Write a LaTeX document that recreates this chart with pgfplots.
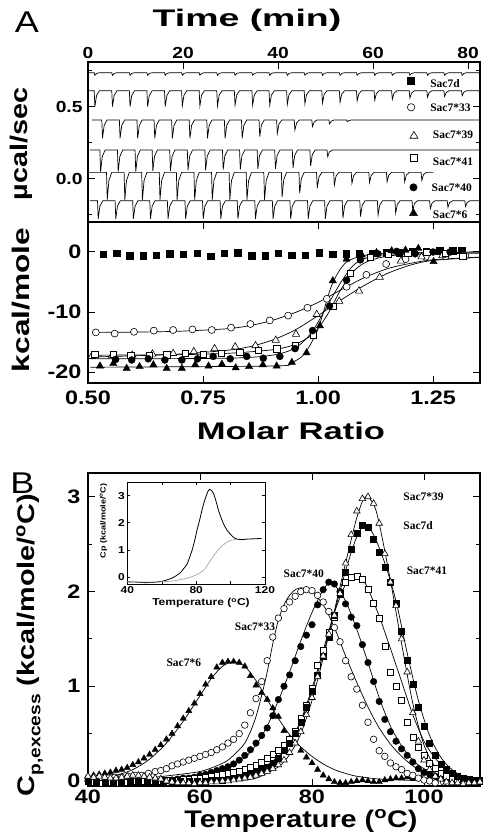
\documentclass[border=0pt]{standalone}
\usepackage{fontspec}
\setmainfont{Liberation Sans}[FakeStretch=1.2]
\newfontfamily\tnr{Liberation Serif}
\usepackage{pgfplots}
\pgfplotsset{compat=1.18}

\newcommand\lab{\fontsize{24}{24}\selectfont\bfseries}
\newcommand\ann{\tnr\fontsize{11.5}{11.5}\selectfont\bfseries}

\pgfplotsset{
  base/.style={
    scale only axis, anchor=south west, width=392pt,
    axis line style={line width=1.2pt},
    every tick/.style={line width=1pt, black},
    major tick length=7pt, minor tick length=4pt,
    /pgf/number format/assume math mode=true,
    tick label style={font=\fontsize{19.5}{19.5}\selectfont\bfseries},
  },
  trace/.style={black, line width=0.7pt, no marks},
  fit/.style={black, line width=0.7pt, no marks, smooth},
  s7d/.style={only marks, mark=square*, mark size=3.2pt, black},
  s33/.style={only marks, mark=*, mark size=3.5pt, black, mark options={fill=white, line width=0.6pt}},
  s39/.style={only marks, mark=triangle*, mark size=4.2pt, black, mark options={fill=white, line width=0.6pt}},
  s41/.style={only marks, mark=square*, mark size=3.2pt, black, mark options={fill=white, line width=0.6pt}},
  s40/.style={only marks, mark=*, mark size=3.5pt, black},
  s6/.style={only marks, mark=triangle*, mark size=4.2pt, black},
}

\begin{document}
\begin{tikzpicture}[x=1pt,y=1pt]
\path[use as bounding box] (0,0) rectangle (482,838);

% ---------- A, top: raw ITC traces
\begin{axis}[base, at={(88pt,616pt)}, height=160pt,
  xmin=0, xmax=82.5, ymin=-0.2986, ymax=0.8125,
  xtick={0,20,40,60,80}, xtick pos=right, xticklabel pos=right,
  ytick={0,0.5}, yticklabels={0.0,0.5}, minor ytick={-0.25,0.25,0.75},
  yticklabel style={xshift=-2pt},
  tick label style={font=\fontsize{16}{16}\selectfont\bfseries}]

% Sac7d
\addplot[trace] coordinates {
(0,0.738)
(1.3,0.738)(1.45,0.720)(1.8,0.733)(2.4,0.738)
(5.0,0.738)(5.15,0.720)(5.5,0.733)(6.1,0.738)
(8.7,0.738)(8.85,0.720)(9.2,0.733)(9.8,0.738)
(12.4,0.738)(12.55,0.720)(12.9,0.733)(13.5,0.738)
(16.1,0.738)(16.25,0.720)(16.6,0.733)(17.2,0.738)
(19.7,0.738)(19.85,0.720)(20.2,0.733)(20.8,0.738)
(23.4,0.738)(23.55,0.720)(23.9,0.733)(24.5,0.738)
(27.1,0.738)(27.25,0.720)(27.6,0.733)(28.2,0.738)
(30.8,0.738)(30.95,0.720)(31.3,0.733)(31.9,0.738)
(34.5,0.738)(34.65,0.720)(35.0,0.733)(35.6,0.738)
(38.1,0.738)(38.25,0.720)(38.6,0.733)(39.2,0.738)
(41.8,0.738)(41.95,0.720)(42.3,0.733)(42.9,0.738)
(45.5,0.738)(45.65,0.720)(46.0,0.733)(46.6,0.738)
(49.2,0.738)(49.35,0.720)(49.7,0.733)(50.3,0.738)
(52.9,0.738)(53.05,0.720)(53.4,0.733)(54.0,0.738)
(56.5,0.738)(56.65,0.720)(57.0,0.733)(57.6,0.738)
(60.2,0.738)(60.35,0.720)(60.7,0.733)(61.3,0.738)
(63.9,0.738)(64.05,0.720)(64.4,0.733)(65.0,0.738)
(67.6,0.738)(67.75,0.720)(68.1,0.733)(68.7,0.738)
(71.3,0.738)(71.45,0.720)(71.8,0.733)(72.4,0.738)
(74.9,0.738)(75.05,0.720)(75.4,0.733)(76.0,0.738)
(78.6,0.738)(78.75,0.720)(79.1,0.733)(79.7,0.738)
(82.3,0.738)(82.45,0.720)(82.8,0.733)(83.4,0.738)
};

% Sac7*33
\addplot[trace] coordinates {
(0,0.613)
(1.3,0.613)(1.45,0.503)(1.8,0.580)(2.4,0.613)
(5.0,0.613)(5.15,0.503)(5.5,0.580)(6.1,0.613)
(8.7,0.613)(8.85,0.503)(9.2,0.580)(9.8,0.613)
(12.4,0.613)(12.55,0.503)(12.9,0.580)(13.5,0.613)
(16.1,0.613)(16.25,0.503)(16.6,0.580)(17.2,0.613)
(19.7,0.613)(19.85,0.508)(20.2,0.582)(20.8,0.613)
(23.4,0.613)(23.55,0.508)(23.9,0.582)(24.5,0.613)
(27.1,0.613)(27.25,0.508)(27.6,0.582)(28.2,0.613)
(30.8,0.613)(30.95,0.513)(31.3,0.583)(31.9,0.613)
(34.5,0.613)(34.65,0.513)(35.0,0.583)(35.6,0.613)
(38.1,0.613)(38.25,0.513)(38.6,0.583)(39.2,0.613)
(41.8,0.613)(41.95,0.518)(42.3,0.585)(42.9,0.613)
(45.5,0.613)(45.65,0.523)(46.0,0.586)(46.6,0.613)
(49.2,0.613)(49.35,0.528)(49.7,0.588)(50.3,0.613)
(52.9,0.613)(53.05,0.533)(53.4,0.589)(54.0,0.613)
(56.5,0.613)(56.65,0.543)(57.0,0.592)(57.6,0.613)
(60.2,0.613)(60.35,0.548)(60.7,0.594)(61.3,0.613)
(63.9,0.613)(64.05,0.553)(64.4,0.595)(65.0,0.613)
(67.6,0.613)(67.75,0.563)(68.1,0.598)(68.7,0.613)
(71.3,0.613)(71.45,0.568)(71.8,0.600)(72.4,0.613)
(74.9,0.613)(75.05,0.573)(75.4,0.601)(76.0,0.613)
(78.6,0.613)(78.75,0.578)(79.1,0.603)(79.7,0.613)
(82.3,0.613)(82.45,0.578)(82.8,0.603)(83.4,0.613)
};

% Sac7*39
\addplot[trace] coordinates {
(0.8,0.41)
(2.9,0.41)(3.05,0.283)(3.4,0.372)(4.0,0.41)
(6.6,0.41)(6.75,0.283)(7.1,0.372)(7.7,0.41)
(10.3,0.41)(10.45,0.283)(10.8,0.372)(11.4,0.41)
(13.9,0.41)(14.05,0.283)(14.4,0.372)(15.0,0.41)
(17.6,0.41)(17.75,0.283)(18.1,0.372)(18.7,0.41)
(21.3,0.41)(21.45,0.283)(21.8,0.372)(22.4,0.41)
(25.0,0.41)(25.15,0.283)(25.5,0.372)(26.1,0.41)
(28.7,0.41)(28.85,0.283)(29.2,0.372)(29.8,0.41)
(32.3,0.41)(32.45,0.283)(32.8,0.372)(33.4,0.41)
(36.0,0.41)(36.15,0.294)(36.5,0.375)(37.1,0.41)
(39.7,0.41)(39.85,0.317)(40.2,0.382)(40.8,0.41)
(43.4,0.41)(43.55,0.340)(43.9,0.389)(44.5,0.41)
(47.1,0.41)(47.25,0.364)(47.6,0.396)(48.2,0.41)
(50.7,0.41)(50.85,0.382)(51.2,0.402)(51.8,0.41)
(54.4,0.41)(54.55,0.398)(54.9,0.406)(55.5,0.41)
(82.5,0.41)
};

% Sac7*41
\addplot[trace] coordinates {
(0.4,0.201)
(2.5,0.201)(2.65,0.051)(3.0,0.156)(3.6,0.201)
(6.2,0.201)(6.35,0.051)(6.7,0.156)(7.3,0.201)
(9.9,0.201)(10.05,0.051)(10.4,0.156)(11.0,0.201)
(13.5,0.201)(13.65,0.056)(14.0,0.158)(14.6,0.201)
(17.2,0.201)(17.35,0.056)(17.7,0.158)(18.3,0.201)
(20.9,0.201)(21.05,0.061)(21.4,0.159)(22.0,0.201)
(24.6,0.201)(24.75,0.061)(25.1,0.159)(25.7,0.201)
(28.3,0.201)(28.45,0.066)(28.8,0.161)(29.4,0.201)
(31.9,0.201)(32.05,0.066)(32.4,0.161)(33.0,0.201)
(35.6,0.201)(35.75,0.071)(36.1,0.162)(36.7,0.201)
(39.3,0.201)(39.45,0.071)(39.8,0.162)(40.4,0.201)
(43.0,0.201)(43.15,0.076)(43.5,0.164)(44.1,0.201)
(46.7,0.201)(46.85,0.091)(47.2,0.168)(47.8,0.201)
(50.3,0.201)(50.45,0.156)(50.8,0.188)(51.4,0.201)
(82.5,0.201)
};

% Sac7*40
\addplot[trace] coordinates {
(0,0.046)
(3.9,0.046)(4.05,-0.144)(4.4,-0.011)(5.0,0.046)
(7.6,0.046)(7.75,-0.144)(8.1,-0.011)(8.7,0.046)
(11.3,0.046)(11.45,-0.144)(11.8,-0.011)(12.4,0.046)
(15.0,0.046)(15.15,-0.144)(15.5,-0.011)(16.1,0.046)
(18.6,0.046)(18.75,-0.144)(19.1,-0.011)(19.7,0.046)
(22.3,0.046)(22.45,-0.144)(22.8,-0.011)(23.4,0.046)
(26.0,0.046)(26.15,-0.144)(26.5,-0.011)(27.1,0.046)
(29.7,0.046)(29.85,-0.144)(30.2,-0.011)(30.8,0.046)
(33.3,0.046)(33.45,-0.144)(33.8,-0.011)(34.4,0.046)
(37.0,0.046)(37.15,-0.144)(37.5,-0.011)(38.1,0.046)
(40.7,0.046)(40.85,-0.124)(41.2,-0.005)(41.8,0.046)
(44.4,0.046)(44.55,-0.099)(44.9,0.003)(45.5,0.046)
(48.1,0.046)(48.25,-0.064)(48.6,0.013)(49.2,0.046)
(51.7,0.046)(51.85,-0.042)(52.2,0.020)(52.8,0.046)
(55.4,0.046)(55.55,-0.030)(55.9,0.023)(56.5,0.046)
(59.1,0.046)(59.25,-0.024)(59.6,0.025)(60.2,0.046)
(62.8,0.046)(62.95,-0.019)(63.3,0.027)(63.9,0.046)
(66.5,0.046)(66.65,-0.019)(67.0,0.027)(67.6,0.046)
(70.1,0.046)(70.25,-0.009)(70.6,0.030)(71.2,0.046)
(72.7,0.046)
};

% Sac7*6
\addplot[trace] coordinates {
(0.4,-0.151)
(2.0,-0.151)(2.15,-0.276)(2.5,-0.189)(3.1,-0.151)
(5.7,-0.151)(5.85,-0.276)(6.2,-0.189)(6.8,-0.151)
(9.4,-0.151)(9.55,-0.276)(9.9,-0.189)(10.5,-0.151)
(13.0,-0.151)(13.15,-0.276)(13.5,-0.189)(14.1,-0.151)
(16.7,-0.151)(16.85,-0.276)(17.2,-0.189)(17.8,-0.151)
(20.4,-0.151)(20.55,-0.276)(20.9,-0.189)(21.5,-0.151)
(24.1,-0.151)(24.25,-0.276)(24.6,-0.189)(25.2,-0.151)
(27.8,-0.151)(27.95,-0.276)(28.3,-0.189)(28.9,-0.151)
(31.4,-0.151)(31.55,-0.276)(31.9,-0.189)(32.5,-0.151)
(35.1,-0.151)(35.25,-0.276)(35.6,-0.189)(36.2,-0.151)
(38.8,-0.151)(38.95,-0.276)(39.3,-0.189)(39.9,-0.151)
(42.5,-0.151)(42.65,-0.276)(43.0,-0.189)(43.6,-0.151)
(46.2,-0.151)(46.35,-0.276)(46.7,-0.189)(47.3,-0.151)
(49.8,-0.151)(49.95,-0.276)(50.3,-0.189)(50.9,-0.151)
(53.5,-0.151)(53.65,-0.271)(54.0,-0.187)(54.6,-0.151)
(57.2,-0.151)(57.35,-0.261)(57.7,-0.184)(58.3,-0.151)
(60.9,-0.151)(61.05,-0.251)(61.4,-0.181)(62.0,-0.151)
(64.6,-0.151)(64.75,-0.236)(65.1,-0.177)(65.7,-0.151)
(68.2,-0.151)(68.35,-0.221)(68.7,-0.172)(69.3,-0.151)
(71.9,-0.151)(72.05,-0.206)(72.4,-0.168)(73.0,-0.151)
(75.6,-0.151)(75.75,-0.196)(76.1,-0.165)(76.7,-0.151)
(79.3,-0.151)(79.45,-0.191)(79.8,-0.163)(80.4,-0.151)
(82.5,-0.151)
};

% key markers
\addplot[s7d, mark size=3.5pt] coordinates {(68.0,0.681)};
\addplot[s33, mark size=3.7pt] coordinates {(68.0,0.498)};
\addplot[s39, mark size=4.6pt] coordinates {(68.6,0.299)};
\addplot[s41, mark size=3.5pt] coordinates {(68.6,0.144)};
\addplot[s40, mark size=3.7pt] coordinates {(68.5,-0.058)};
\addplot[s6, mark size=4.6pt] coordinates {(68.5,-0.238)};
\node[anchor=west, font=\ann] at (axis cs:71.3,0.665) {Sac7d};
\node[anchor=west, font=\ann] at (axis cs:71.3,0.498) {Sac7*33};
\node[anchor=west, font=\ann] at (axis cs:71.85,0.306) {Sac7*39};
\node[anchor=west, font=\ann] at (axis cs:71.85,0.120) {Sac7*41};
\node[anchor=west, font=\ann] at (axis cs:71.6,-0.064) {Sac7*40};
\node[anchor=west, font=\ann] at (axis cs:71.85,-0.250) {Sac7*6};
\end{axis}

% ---------- A, bottom: binding isotherms
\begin{axis}[base, at={(88pt,455pt)}, height=161pt,
  xmin=0.5, xmax=1.352, ymin=-21.83, ymax=5,
  xtick={0.5,0.75,1,1.25}, xticklabels={0.50,0.75,1.00,1.25},
  ytick={-20,-10,0}, yticklabels={-20,-10,0},
  xticklabel style={yshift=-4pt}, yticklabel style={xshift=-3pt}]

\addplot[s7d] coordinates {
(0.533,-0.4) (0.562,-0.2) (0.591,-0.6) (0.620,-0.6) (0.648,-0.5) (0.678,-0.3)
(0.707,-0.4) (0.737,-0.2) (0.767,-0.7) (0.796,-0.2) (0.825,-0.1) (0.856,-0.6)
(0.885,-0.6) (0.914,-0.2) (0.943,-0.5) (0.972,-0.5) (1.003,-0.1) (1.032,-0.4)
(1.061,-0.3) (1.090,-0.3) (1.119,-0.2) (1.148,-0.1) (1.177,-0.1) (1.206,0.1)
(1.235,0.1) (1.264,0.2) (1.293,0.2) (1.312,0.3)
};
\addplot[s33] coordinates {
(0.517,-13.4) (0.558,-13.6) (0.600,-13.3) (0.643,-13.1) (0.685,-13.0) (0.727,-12.9)
(0.769,-13.0) (0.811,-12.6) (0.853,-12.0) (0.895,-11.4) (0.935,-10.6) (0.977,-9.3)
(1.019,-7.8) (1.062,-5.8) (1.105,-3.8) (1.148,-2.0) (1.190,-1.2) (1.234,-0.8)
(1.277,-0.7) (1.320,-0.6)
};
\addplot[s39] coordinates {
(0.508,-17.4) (0.552,-17.3) (0.596,-17.2) (0.640,-17.0) (0.685,-16.9) (0.730,-16.6)
(0.775,-16.1) (0.820,-15.8) (0.864,-15.6) (0.908,-14.7) (0.952,-13.7) (0.997,-10.4)
(1.046,-8.2) (1.089,-6.5) (1.134,-4.2) (1.180,-1.5) (1.225,-0.8) (1.270,-0.6)
(1.315,-0.6)
};
\addplot[s41] coordinates {
(0.515,-17.0) (0.555,-17.0) (0.593,-17.2) (0.633,-17.2) (0.671,-17.1) (0.711,-16.9)
(0.751,-17.0) (0.790,-16.9) (0.830,-16.7) (0.870,-16.4) (0.910,-16.1) (0.950,-15.5)
(0.990,-13.8) (1.032,-9.0) (1.070,-3.5) (1.113,-0.9) (1.153,-0.4) (1.195,-0.2)
(1.236,-0.1) (1.276,-0.2) (1.315,-0.7)
};
\addplot[s40] coordinates {
(0.560,-17.9) (0.595,-18.0) (0.631,-17.8) (0.667,-18.0) (0.704,-18.0) (0.738,-17.8)
(0.772,-17.4) (0.809,-17.8) (0.845,-17.4) (0.881,-17.7) (0.917,-17.4) (0.950,-16.1)
(0.988,-13.1) (1.025,-9.0) (1.062,-4.7) (1.092,-1.3) (1.130,-0.3) (1.171,0.1)
(1.211,-0.3) (1.250,0.0) (1.287,0.0)
};
\addplot[s6] coordinates {
(0.526,-19.0) (0.555,-18.6) (0.584,-19.4) (0.612,-19.1) (0.642,-18.8) (0.671,-19.4)
(0.704,-19.4) (0.733,-18.8) (0.762,-19.0) (0.791,-18.7) (0.821,-19.3) (0.850,-19.1)
(0.880,-18.8) (0.910,-19.0) (0.943,-18.4) (0.975,-16.8) (1.004,-12.3) (1.032,-4.8)
(1.062,-1.2) (1.095,-0.5) (1.127,-0.1) (1.160,0.2) (1.190,0.3) (1.218,0.6)
(1.251,-1.6)
};

% fitted curves
\addplot[fit] coordinates {
(0.515,-13.4) (0.6,-13.35) (0.7,-13.2) (0.8,-12.8) (0.85,-12.3) (0.9,-11.4)
(0.95,-10.1) (1.0,-8.4) (1.05,-6.3) (1.1,-4.3) (1.15,-2.8) (1.2,-1.9) (1.25,-1.3) (1.35,-0.85)
};
\addplot[fit] coordinates {
(0.505,-17.5) (0.6,-17.3) (0.7,-17.0) (0.8,-16.4) (0.85,-15.8) (0.9,-14.7)
(0.95,-13.0) (1.0,-10.6) (1.05,-8.0) (1.1,-5.6) (1.15,-3.6) (1.2,-2.2) (1.25,-1.4) (1.35,-0.9)
};
\addplot[fit] coordinates {
(0.505,-17.2) (0.7,-17.1) (0.8,-16.9) (0.9,-16.3) (0.95,-15.4) (0.99,-13.6)
(1.02,-10.5) (1.05,-6.2) (1.08,-3.0) (1.11,-1.5) (1.16,-0.6) (1.25,-0.3) (1.35,-0.2)
};
\addplot[fit] coordinates {
(0.505,-17.8) (0.8,-17.7) (0.9,-17.2) (0.95,-16.0) (0.985,-13.5) (1.02,-9.0)
(1.05,-5.0) (1.08,-2.0) (1.12,-0.7) (1.2,-0.2) (1.35,0.0)
};
\addplot[fit] coordinates {
(0.505,-19.2) (0.9,-19.0) (0.94,-18.5) (0.97,-17.0) (1.0,-12.8) (1.03,-5.5)
(1.06,-1.8) (1.1,-0.6) (1.15,-0.2) (1.35,0.0)
};
\end{axis}

% ---------- B: DSC excess heat capacity
\begin{axis}[base, at={(88pt,52pt)}, height=313pt,
  xmin=40, xmax=110, ymin=-0.053, ymax=3.252,
  xtick={40,60,80,100}, ytick={0,1,2,3}, minor ytick={0.5,1.5,2.5},
  yticklabel style={xshift=-4pt}]

\addplot[s6, mark size=3.6pt] coordinates {
(40,0.05)(41,0.06)(42,0.07)(43,0.08)(44,0.09)(45,0.11)(46,0.12)(47,0.14)(48,0.17)(49,0.2)
(50,0.24)(51,0.28)(52,0.33)(53,0.38)(54,0.44)(55,0.5)(56,0.58)(57,0.66)(58,0.74)(59,0.82)
(60,0.92)(61,1.02)(62,1.1)(63,1.2)(64,1.25)(65,1.26)(66,1.26)(67,1.25)(68,1.21)(69,1.11)
(70,1.01)(71,0.93)(72,0.86)(73,0.77)(74,0.68)(75,0.53)(76,0.45)(77,0.4)(78,0.32)(79,0.25)
(80,0.19)(81,0.12)(82,0.06)(83,0.02)(84,-0.01)(85,-0.02)(86,-0.02)(87,-0.01)(88,0.0)(89,0.01)
(90,0.0)(91,-0.01)(92,-0.01)(93,0.01)(94,0.02)(95,0.03)(96,0.03)(97,0.04)(98,0.03)(99.5,0.03)
(101,0.03)(102.5,0.02)(104,0.02)(105.5,0.02)(107,0.01)(108.5,0.01)(110,0.01)
};
\addplot[s33, mark size=3.3pt] coordinates {
(40,0.03)(41.2,0.03)(42.4,0.03)(43.6,0.03)(44.8,0.04)(46,0.04)(47.2,0.05)(48.4,0.06)(49.6,0.06)
(50.8,0.08)(52,0.1)(53,0.11)(54,0.13)(55,0.16)(56,0.18)(57,0.2)(58,0.22)(59,0.24)(60,0.26)
(61,0.28)(62,0.3)(63,0.33)(64,0.36)(65,0.4)(66,0.44)(67,0.5)(68,0.59)(69,0.72)(70,0.87)
(71,1.05)(72,1.27)(73,1.52)(74,1.72)(75,1.82)(76,1.89)(77,1.95)(78,2.0)(79,2.02)(80,2.01)
(81,1.96)(82,1.89)(83,1.79)(84,1.62)(85,1.47)(86,1.27)(87,1.1)(88,0.97)(89,0.8)(90,0.62)
(91,0.44)(92,0.32)(93,0.26)(94,0.19)(95,0.15)(96,0.12)(97,0.08)(98,0.06)(99,0.03)(100,0.01)
(101,0.0)(102,-0.02)(103.5,-0.01)(105,0.0)(106.5,0.01)(108,0.0)(109.5,0.0)
};
\addplot[s40, mark size=3.3pt] coordinates {
(40,0.0)(41.5,0.0)(43,0.0)(44.5,0.0)(46,0.0)(47.5,0.0)(49,0.0)(50.5,0.0)(52,0.01)(53.5,0.01)
(55,0.01)(56,0.02)(57,0.03)(58,0.03)(59,0.04)(60,0.06)(61,0.07)(62,0.09)(63,0.11)(64,0.13)
(65,0.15)(66,0.18)(67,0.22)(68,0.27)(69,0.33)(70,0.4)(71,0.48)(72,0.56)(73,0.69)(74,0.86)
(75,1.0)(76,1.12)(77,1.27)(78,1.42)(79,1.54)(80,1.65)(81,1.86)(82,2.02)(83,2.1)(84,2.08)
(85,2.0)(86,1.87)(87,1.73)(88,1.64)(89,1.44)(90,1.25)(91,1.05)(92,0.84)(93,0.65)(94,0.52)
(95,0.42)(96,0.34)(97,0.27)(98,0.2)(99,0.13)(100,0.09)(101,0.07)(102,0.05)(103.5,0.03)
(105,0.02)(106.5,0.01)(108,0.01)(109.5,0.0)
};
\addplot[s41, mark size=3.0pt] coordinates {
(40,0.0)(41,-0.01)(42,-0.02)(43,-0.02)(44,-0.01)(45,-0.02)(46,-0.01)(47,-0.01)(48,0.0)(49,-0.01)
(50,0.0)(51,0.0)(52,0.0)(53,0.0)(54,0.01)(55,0.01)(56,0.01)(57,0.02)(58,0.02)(59,0.03)
(60,0.03)(61,0.04)(62,0.05)(63,0.06)(64,0.07)(65,0.08)(66,0.09)(67,0.1)(68,0.12)(69,0.14)
(70,0.17)(71,0.2)(72,0.24)(73,0.28)(74,0.32)(75,0.38)(76,0.44)(77,0.52)(78,0.66)(79,0.8)
(80,0.98)(81,1.22)(82,1.38)(83,1.57)(84,1.73)(85,1.97)(86,2.1)(87,2.15)(88,2.16)(89,2.13)
(90,2.02)(91,1.88)(92,1.72)(93,1.42)(94,1.15)(95,1.0)(96,0.85)(97,0.62)(98,0.46)(99,0.36)
(100,0.27)(101,0.19)(102,0.13)(103,0.08)(104,0.05)(105,0.03)(106,0.01)(107,0.0)(108,-0.01)
(109,-0.01)(110,0.0)
};
\addplot[s7d, mark size=3.0pt] coordinates {
(40,0.0)(41.5,-0.01)(43,-0.01)(44.5,-0.01)(46,-0.01)(47.5,0.0)(49,0.0)(50.5,0.0)(52,0.0)(53.5,0.0)
(55,0.0)(56.5,0.0)(58,0.0)(59.5,0.0)(61,0.0)(62,0.01)(63,0.01)(64,0.01)(65,0.02)(66,0.03)
(67,0.04)(68,0.05)(69,0.07)(70,0.09)(71,0.12)(72,0.15)(73,0.19)(74,0.24)(75,0.32)(76,0.4)
(77,0.5)(78,0.62)(79,0.78)(80,0.95)(81,1.12)(82,1.32)(83,1.52)(84,1.75)(85,1.98)(86,2.2)
(87,2.45)(88,2.62)(89,2.7)(90,2.68)(91,2.55)(92,2.42)(93,2.26)(94,2.1)(95,1.88)(96,1.58)
(97,1.28)(98,1.02)(99,0.78)(100,0.58)(101,0.4)(102,0.27)(103,0.18)(104,0.12)(105,0.08)
(106,0.05)(107,0.03)(108,0.02)(109,0.01)(110,0.01)
};
\addplot[s39, mark size=3.8pt] coordinates {
(40,0.05)(41,0.04)(42,0.05)(43,0.04)(44,0.03)(45,0.03)(46,0.04)(47,0.05)(48,0.06)(49,0.06)
(50,0.05)(51,0.04)(52,0.03)(53,0.02)(54,0.0)(55,-0.01)(56,-0.02)(57,-0.02)(58,-0.02)(59,-0.03)
(60,-0.02)(61,-0.02)(62,-0.01)(63,-0.01)(64,0.0)(65,0.0)(66,0.01)(67,0.02)(68,0.03)(69,0.04)
(70,0.06)(71,0.08)(72,0.1)(73,0.13)(74,0.17)(75,0.22)(76,0.3)(77,0.4)(78,0.52)(79,0.7)
(80,0.88)(81,1.1)(82,1.32)(83,1.55)(84,1.75)(85,1.98)(86,2.3)(87,2.6)(88,2.85)(89,2.98)
(90,3.0)(91,2.93)(92,2.72)(93,2.4)(94,2.1)(95,1.85)(96,1.5)(97,1.15)(98,0.72)(99,0.42)
(100,0.22)(101,0.12)(102,0.05)(103,0.02)(104,-0.01)(105,-0.02)(106,-0.02)(107,-0.03)
(108,-0.02)(109,-0.02)(110,-0.01)
};

% fitted curves
\addplot[fit] coordinates {
(42,0.03)(45,0.06)(48,0.12)(51,0.23)(54,0.4)(57,0.63)(60,0.9)(62,1.08)(64,1.21)(66,1.26)
(68,1.21)(70,1.06)(72,0.86)(74,0.66)(76,0.49)(78,0.36)(80,0.26)(82,0.18)(84,0.12)(86,0.08)
(88,0.05)(92,0.02)(96,0.01)(100,0.0)
};
\addplot[fit] coordinates {
(44,0.01)(50,0.03)(55,0.06)(60,0.1)(63,0.16)(65,0.22)(67,0.33)(68,0.4)(69,0.52)(70,0.68)
(71,0.9)(72,1.15)(73,1.45)(74,1.7)(75,1.86)(76,1.96)(77,2.02)(78,2.04)(79,2.03)(80,2.0)
(82,1.86)(84,1.62)(86,1.32)(88,1.04)(90,0.78)(92,0.56)(94,0.39)(96,0.26)(98,0.16)(100,0.09)
(103,0.04)(106,0.01)(110,0.0)
};
\addplot[fit] coordinates {
(56,0.01)(60,0.03)(64,0.1)(68,0.25)(70,0.38)(72,0.58)(74,0.85)(76,1.15)(78,1.48)(80,1.78)
(82,2.02)(83,2.08)(84,2.07)(86,1.9)(88,1.6)(90,1.25)(92,0.88)(94,0.58)(96,0.37)(98,0.22)
(100,0.13)(103,0.06)(106,0.02)(110,0.0)
};
\addplot[fit] coordinates {
(66,0.03)(70,0.09)(74,0.26)(76,0.41)(78,0.64)(80,0.98)(82,1.38)(84,1.78)(86,2.08)(87,2.15)
(88,2.16)(89,2.13)(90,2.03)(92,1.74)(94,1.4)(96,1.05)(98,0.7)(100,0.42)(102,0.24)(104,0.12)
(106,0.05)(110,0.01)
};
\addplot[fit] coordinates {
(64,0.01)(68,0.04)(72,0.15)(74,0.24)(76,0.4)(78,0.62)(80,0.95)(82,1.34)(84,1.78)(86,2.22)
(88,2.58)(89.5,2.7)(91,2.6)(93,2.3)(95,1.9)(97,1.35)(99,0.85)(101,0.48)(103,0.25)(105,0.12)
(107,0.05)(110,0.01)
};
\addplot[fit] coordinates {
(66,0.0)(70,0.03)(74,0.15)(76,0.28)(78,0.5)(80,0.85)(82,1.3)(84,1.8)(86,2.3)(88,2.78)
(89.5,3.0)(91,2.92)(92,2.72)(94,2.12)(96,1.45)(98,0.82)(100,0.38)(102,0.15)(104,0.05)
(107,0.01)(110,0.0)
};

\node[anchor=west, font=\ann] at (axis cs:95.7,3.0) {Sac7*39};
\node[anchor=west, font=\ann] at (axis cs:95.7,2.70) {Sac7d};
\node[anchor=west, font=\ann] at (axis cs:96.3,2.22) {Sac7*41};
\node[anchor=west, font=\ann] at (axis cs:74.3,2.19) {Sac7*40};
\node[anchor=west, font=\ann] at (axis cs:65.6,1.63) {Sac7*33};
\node[anchor=west, font=\ann] at (axis cs:53.4,1.25) {Sac7*6};
\end{axis}

% ---------- B inset: raw DSC scan with baseline
\begin{axis}[base, at={(127.4pt,254pt)}, width=137.6pt, height=102pt,
  xmin=40, xmax=120, ymin=-0.25, ymax=3.5,
  axis background/.style={fill=white},
  axis line style={line width=0.8pt}, every tick/.style={line width=0.6pt, black},
  major tick length=3pt,
  xtick={40,60,80,100,120}, xticklabels={40,,80,,120}, ytick={0,1,2,3},
  tick label style={font=\fontsize{10}{10}\selectfont\bfseries},
  xticklabel style={yshift=1pt}, yticklabel style={xshift=1pt}]
\addplot[black, line width=0.8pt, no marks, smooth] coordinates {
(40,-0.17)(45,-0.18)(50,-0.2)(55,-0.19)(60,-0.15)(63,-0.1)(66,-0.03)(68,0.04)(70.7,0.16)
(72.5,0.3)(74.6,0.47)(76,0.7)(77.5,0.97)(79,1.32)(80.4,1.71)(82,2.1)(83.3,2.45)(84.7,2.78)
(85.9,3.0)(87,3.18)(87.8,3.23)(89,3.18)(90.1,3.07)(91.5,2.8)(93,2.45)(94.5,2.18)(95.9,1.96)
(98,1.72)(99.9,1.58)(102,1.45)(103.8,1.4)(106,1.38)(109.6,1.4)(113,1.41)(116.4,1.42)(118,1.42)
};
\addplot[gray!70, line width=0.7pt, no marks, smooth] coordinates {
(40,-0.17)(55,-0.18)(65,-0.15)(70,-0.1)(75,-0.03)(78,0.03)(82,0.15)(85,0.3)(88,0.58)
(91,0.86)(94,1.09)(97,1.25)(100,1.35)(103.8,1.4)
};
\end{axis}

% ---------- panel letters and axis titles
\node[font=\fontsize{30}{30}\selectfont] at (27,816) {A};
\node[font=\fontsize{30}{30}\selectfont] at (22.5,355) {B};
\node[font=\lab] at (247,818) {\scalebox{1.3}[1]{Time (min)}};
\node[font=\lab, rotate=90] at (21,694) {µcal/sec};
\node[font=\lab, rotate=90] at (21,538) {\scalebox{1.1}[1]{kcal/mole}};
\node[font=\lab] at (291,407) {\scalebox{1.2}[1]{Molar Ratio}};
\node[font=\lab, rotate=90] at (30,193) {C\raisebox{-6pt}{\fontsize{16}{16}\selectfont p,excess} (kcal/mole/\textsuperscript{o}C)};
\node[font=\lab] at (301,17) {Temperature (\textsuperscript{o}C)};
\node[font=\fontsize{7.5}{7.5}\selectfont\bfseries, rotate=90] at (103.5,317) {Cp (kcal/mole/\textsuperscript{o}C)};
\node[font=\fontsize{10}{10}\selectfont\bfseries] at (201,235) {Temperature (\textsuperscript{o}C)};
\end{tikzpicture}
\end{document}
